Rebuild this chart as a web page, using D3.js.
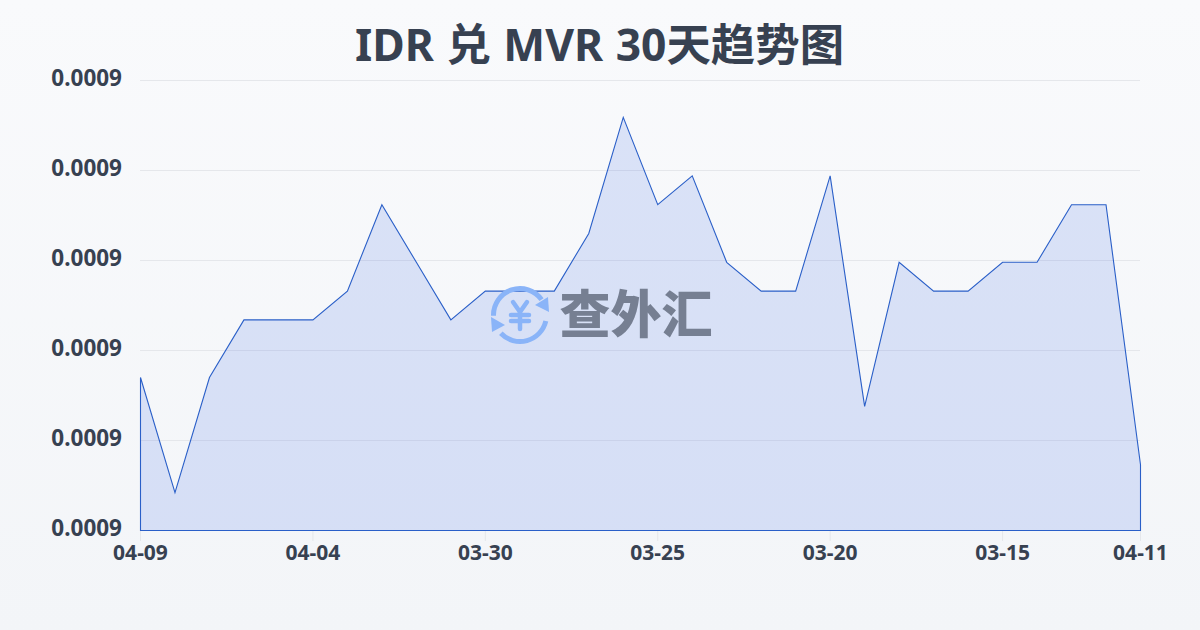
<!DOCTYPE html>
<html><head><meta charset="utf-8">
<script src="https://cdn.jsdelivr.net/npm/d3@7/dist/d3.min.js"></script>
<style>html,body{margin:0;padding:0;background:#f5f6f9}svg{display:block}</style></head>
<body><svg id="c" width="1200" height="630"></svg>
<script>
const titleText = "IDR 兑 MVR 30天趋势图";
const dates = ["04-09","04-08","04-07","04-06","04-05","04-04","04-03","04-02","04-01","03-31","03-30","03-29","03-28","03-27","03-26","03-25","03-24","03-23","03-22","03-21","03-20","03-19","03-18","03-17","03-16","03-15","03-14","03-13","03-12","04-11"];
const rates = [0.000877,0.0008642,0.000877,0.0008834,0.0008834,0.0008834,0.0008866,0.0008962,0.0008898,0.0008834,0.0008866,0.0008866,0.0008866,0.000893,0.0009059,0.0008962,0.0008994,0.0008898,0.0008866,0.0008866,0.0008994,0.0008738,0.0008898,0.0008866,0.0008866,0.0008898,0.0008898,0.0008962,0.0008962,0.0008673];
const yTicks = [0.00086,0.00087,0.00088,0.00089,0.0009,0.00091];
const labelIdx = [0,5,10,15,20,25,29];
const watermark = "查外汇";

const svg = d3.select("#c");
const defs = svg.append("defs");
const bg = defs.append("linearGradient").attr("id","bg").attr("x1",0).attr("y1",0).attr("x2",0).attr("y2",1);
bg.append("stop").attr("offset",0).attr("stop-color","#f9fafc");
bg.append("stop").attr("offset",1).attr("stop-color","#f3f5f8");
svg.append("rect").attr("width",1200).attr("height",630).attr("fill","url(#bg)");

const x = d3.scalePoint().domain(d3.range(dates.length)).range([140.5,1140.5]);
const y = d3.scaleLinear().domain([0.00086,0.00091]).range([530.5,80.5]);
const font = "'Noto Sans','Noto Sans CJK SC',sans-serif";

svg.append("text").attr("x",599.5).attr("y",61).attr("text-anchor","middle").attr("word-spacing",1)
  .attr("font-family",font).attr("font-weight",700).attr("font-size",44.4).attr("fill","#374151").text(titleText);

svg.append("g").selectAll("line").data(yTicks.slice(1)).join("line")
  .attr("x1",140).attr("x2",1140).attr("y1",d=>y(d)).attr("y2",d=>y(d))
  .attr("stroke","#e5e7eb").attr("stroke-width",1);

const area = d3.area().x((d,i)=>x(i)).y0(y(0.00086)).y1(d=>y(d));
svg.append("path").datum(rates).attr("d",area).attr("fill","#2f5fe2").attr("fill-opacity",.15)
  .attr("stroke","#2a5fc8").attr("stroke-width",1.1);

svg.append("g").selectAll("text").data(yTicks).join("text")
  .attr("x",122).attr("y",d=>y(d)+5.5).attr("text-anchor","end")
  .attr("font-family",font).attr("font-weight",700).attr("font-size",22.5).attr("fill","#374151")
  .text(d=>d3.format(".4f")(d));

const xg = svg.append("g");
xg.selectAll("line").data(labelIdx).join("line")
  .attr("x1",i=>x(i)).attr("x2",i=>x(i)).attr("y1",531).attr("y2",541)
  .attr("stroke","#e5e7eb");
xg.selectAll("text").data(labelIdx).join("text")
  .attr("x",i=>x(i)).attr("y",559.5).attr("text-anchor","middle")
  .attr("font-family",font).attr("font-weight",700).attr("font-size",21).attr("fill","#374151")
  .text(i=>dates[i]);

// watermark logo
const wm = svg.append("g").attr("transform","translate(520,315)");
const blue="#8ab4f8";
const ring = d3.arc().innerRadius(24).outerRadius(29);
wm.append("path").attr("d",ring({startAngle:-1.6,endAngle:0.95})).attr("fill",blue);
wm.append("path").attr("d",ring({startAngle:1.8,endAngle:3.95})).attr("fill",blue);
wm.append("path").attr("d","M28,-18 L29,-3 L15,-10 Z").attr("fill",blue);
wm.append("path").attr("d","M-29,2 L-15,10 L-28,17 Z").attr("fill",blue);
wm.append("path").attr("d","M-7,-13 L0,-3 L7,-13 M-9,0 H9 M-9,6 H9 M0,-3 V14")
  .attr("fill","none").attr("stroke",blue).attr("stroke-width",4.5).attr("stroke-linecap","round").attr("stroke-linejoin","round");
svg.append("text").attr("x",636).attr("y",333).attr("text-anchor","middle").attr("font-family","'Noto Sans CJK SC',sans-serif")
  .attr("font-weight",900).attr("font-size",51).attr("fill","#767f92").text(watermark);
</script></body></html>
